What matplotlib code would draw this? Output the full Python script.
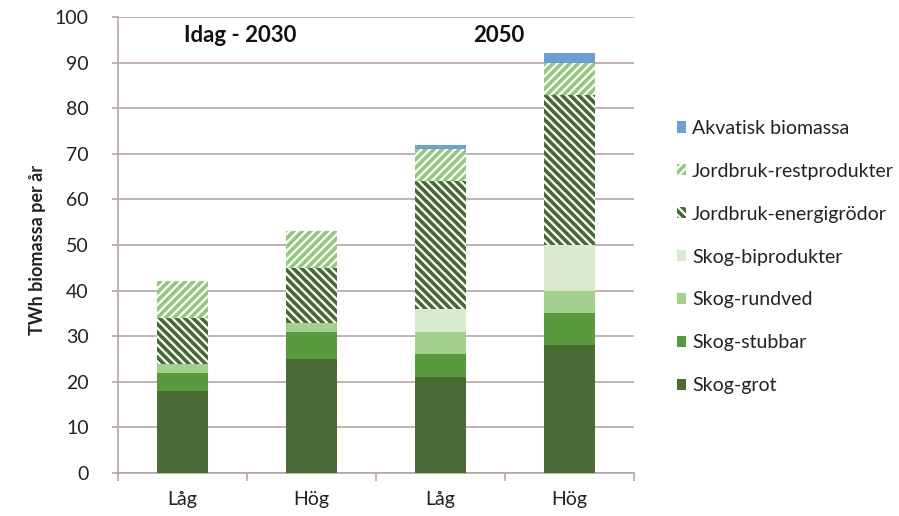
import matplotlib
matplotlib.use("Agg")
import matplotlib.pyplot as plt
import numpy as np

categories = ["Låg", "Hög", "Låg", "Hög"]
series_names = ["Skog-grot", "Skog-stubbar", "Skog-rundved", "Skog-biprodukter",
                "Jordbruk-energigrödor", "Jordbruk-restprodukter", "Akvatisk biomassa"]
skog_grot = [18, 25, 21, 28]
skog_stubbar = [4, 6, 5, 7]
skog_rundved = [2, 2, 5, 5]
skog_biprodukter = [0, 0, 5, 10]
jordbruk_energi = [10, 12, 28, 33]
jordbruk_rest = [8, 8, 7, 7]
akvatisk = [0, 0, 1, 2]
period_labels = ["Idag - 2030", "2050"]

series = [skog_grot, skog_stubbar, skog_rundved, skog_biprodukter,
          jordbruk_energi, jordbruk_rest, akvatisk]
styles = [
    dict(facecolor="#4b6b36", edgecolor="#4b6b36", hatch=None),
    dict(facecolor="#5a9a3e", edgecolor="#5a9a3e", hatch=None),
    dict(facecolor="#a3d08f", edgecolor="#a3d08f", hatch=None),
    dict(facecolor="#d9ead0", edgecolor="#d9ead0", hatch=None),
    dict(facecolor="white", edgecolor="#456a33", hatch="\\" * 4),
    dict(facecolor="white", edgecolor="#93c87c", hatch="/" * 4),
    dict(facecolor="#6c9fd6", edgecolor="#6c9fd6", hatch=None),
]

plt.rcParams['font.family'] = ['Lato', 'DejaVu Sans']
plt.rcParams['hatch.linewidth'] = 2.6

fig = plt.figure(figsize=(8.99, 5.16), dpi=100)
ax = fig.add_axes([118/899, 1-473/516, (634-118)/899, (473-17)/516])

x = np.arange(len(categories))
bottom = np.zeros(len(categories))
handles = []
for name, vals, st in zip(series_names, series, styles):
    vals = np.array(vals, dtype=float)
    b = ax.bar(x, vals, 0.4, bottom=bottom, facecolor=st["facecolor"],
               edgecolor=st["edgecolor"], hatch=st["hatch"], linewidth=0,
               label=name, zorder=3)
    handles.append(b)
    bottom += vals

gridc = "#b8a4a4"
txtc = "#222222"
ax.set_ylim(0, 100)
ax.set_xlim(-0.5, len(categories) - 0.5)
ax.set_yticks(np.arange(0, 101, 10))
ax.yaxis.grid(True, color=gridc, linewidth=1.2, zorder=0)
ax.set_axisbelow(True)
for s in ["top", "right"]:
    ax.spines[s].set_visible(False)
for s in ["left", "bottom"]:
    ax.spines[s].set_color(gridc)
    ax.spines[s].set_linewidth(1.2)
ax.set_xticks(x)
ax.set_xticklabels(categories, fontsize=14, color=txtc)
ax.tick_params(axis="x", length=0, pad=13)
ax.set_xticks(np.arange(-0.5, len(categories), 1), minor=True)
ax.tick_params(axis="x", which="minor", length=6, color=gridc, width=1.2)
ax.tick_params(axis="y", length=4, color=gridc, width=1.2, labelsize=14,
               labelcolor=txtc, pad=17)
ax.set_ylabel("TWh biomassa per år", fontsize=13, fontweight="bold",
              color=txtc)
ax.yaxis.set_label_coords((46 - 118) / 516, 0.49)

ax.text(0.45, 96, period_labels[0], ha="center", va="center", fontsize=16,
        fontweight="bold", color="#111111")
ax.text(2.45, 96, period_labels[1], ha="center", va="center", fontsize=16,
        fontweight="bold", color="#111111")

leg = fig.legend(handles[::-1], series_names[::-1], loc="center left",
                 bbox_to_anchor=(659/899, 1-257/516), frameon=False,
                 fontsize=14, handlelength=0.5, handleheight=0.5,
                 handletextpad=0.3, labelspacing=1.33)
for t in leg.get_texts():
    t.set_color(txtc)

fig.savefig("out.png", dpi=100)
